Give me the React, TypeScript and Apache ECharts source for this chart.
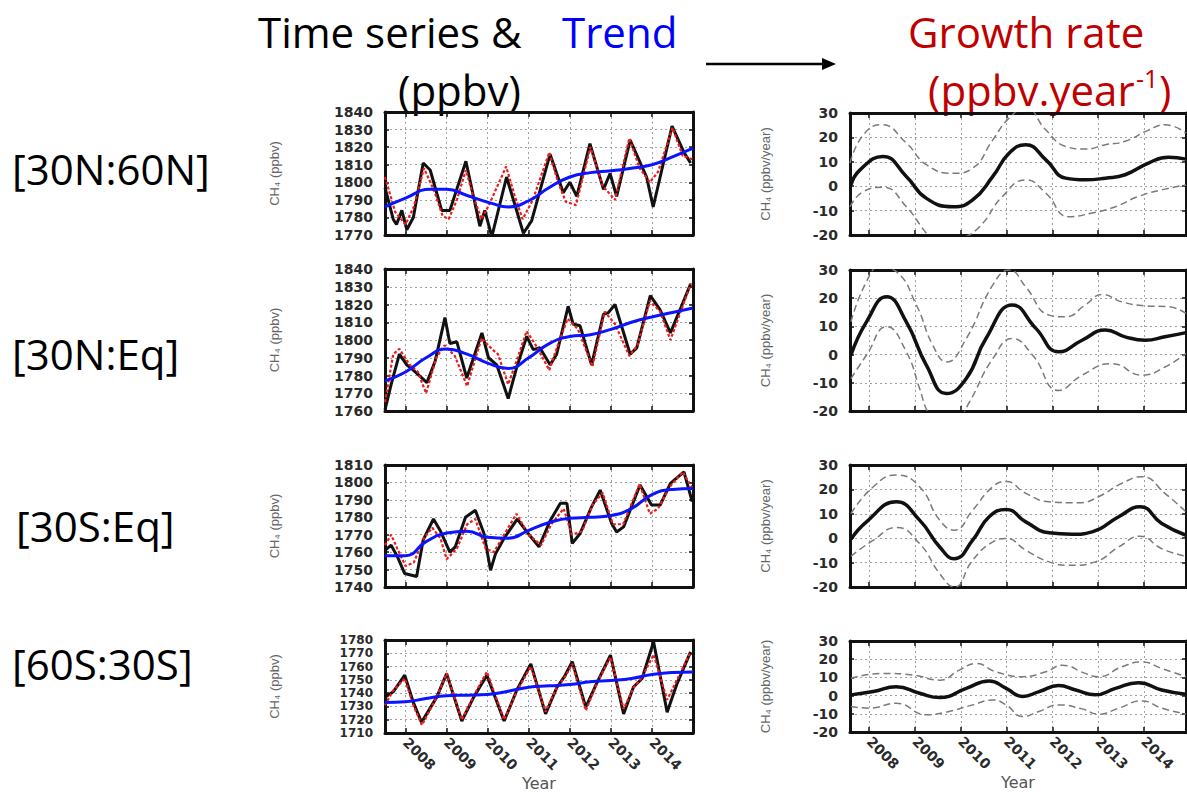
import React, { useEffect, useRef } from "react";
import * as echarts from "echarts";

// Year ticks shared by every panel
const yearTicks = [2008, 2009, 2010, 2011, 2012, 2013, 2014];

// Latitude bands, top to bottom
const bands = ["[30N:60N]", "[30N:Eq]", "[30S:Eq]", "[60S:30S]"];

// CH4 axis ranges (ppbv) for the time-series panels
const ch4Min = [1770, 1760, 1740, 1710];
const ch4Max = [1840, 1840, 1810, 1780];

// Growth-rate axis range (ppbv/year)
const rateMin = -20;
const rateMax = 30;

// ---- [30N:60N] ----
const n60Obs = [[2007.5,1797],[2007.7,1779],[2007.78,1776],[2007.91,1784],[2008.03,1773],[2008.19,1780],[2008.43,1811],[2008.6,1807],[2008.88,1784],[2009.08,1784],[2009.47,1812],[2009.81,1775],[2009.93,1784],[2010.1,1769],[2010.46,1803],[2010.87,1771],[2011.07,1778],[2011.52,1816],[2011.84,1794],[2012.0,1800],[2012.17,1792],[2012.49,1822],[2012.82,1796],[2012.98,1805],[2013.14,1792],[2013.47,1824],[2013.87,1803],[2014.03,1786],[2014.2,1803],[2014.49,1832],[2014.78,1817],[2014.94,1811]];
const n60Model = [[2007.5,1803],[2007.75,1783],[2008.0,1776],[2008.2,1786],[2008.45,1808],[2008.7,1795],[2008.9,1781],[2009.05,1779],[2009.25,1790],[2009.47,1807],[2009.65,1792],[2009.85,1779],[2010.05,1788],[2010.45,1809],[2010.65,1793],[2010.85,1779],[2011.1,1790],[2011.5,1817],[2011.7,1801],[2011.9,1789],[2012.15,1787],[2012.5,1820],[2012.8,1798],[2013.1,1790],[2013.45,1825],[2013.7,1808],[2013.95,1800],[2014.15,1806],[2014.5,1831],[2014.75,1815],[2015.0,1813]];
const n60Trend = [[2007.5,1786],[2008.0,1791],[2008.6,1796],[2009.0,1796],[2009.5,1792.5],[2010.1,1788],[2010.5,1786],[2011.0,1789.5],[2011.5,1797],[2012.0,1803],[2012.5,1805.5],[2013.0,1806.5],[2013.5,1808],[2014.0,1810],[2014.5,1814.5],[2015.0,1819.5]];
const n60Rate = [[2007.6,0.5],[2007.8,6.7],[2008.3,12.2],[2008.81,4],[2009.25,-5],[2009.83,-8.4],[2010.26,-5.6],[2010.7,4],[2011.06,13.6],[2011.42,17],[2011.86,10.8],[2012.29,3.3],[2012.72,2.6],[2013.16,3.3],[2013.59,4.7],[2014.1,9.5],[2014.54,11.9],[2014.92,11.1]];
const n60RateHi = [[2007.58,9.5],[2007.87,21],[2008.27,25.2],[2008.81,17.7],[2009.25,8.8],[2009.83,5.3],[2010.26,7.4],[2010.7,19],[2011.06,28],[2011.42,32],[2011.86,23],[2012.29,16.3],[2012.72,15.2],[2013.16,17],[2013.59,18.4],[2014.1,23],[2014.46,25.2],[2014.92,21.8]];
const n60RateLo = [[2007.58,-8.4],[2007.87,-2.2],[2008.3,-0.4],[2008.81,-8.4],[2009.25,-19.3],[2009.54,-24.8],[2009.97,-22],[2010.41,-16.6],[2010.91,-4.2],[2011.42,2.6],[2011.86,-2.9],[2012.36,-12.5],[2012.87,-11],[2013.38,-8.4],[2013.88,-4.2],[2014.46,-1.2],[2014.92,0.5]];

// ---- [30N:Eq] ----
const nEqObs = [[2007.5,1760.6],[2007.65,1775],[2007.85,1792],[2008.03,1786],[2008.19,1783],[2008.52,1776],[2008.72,1788],[2008.96,1812.6],[2009.08,1798],[2009.25,1799],[2009.49,1778.6],[2009.86,1804],[2010.02,1790],[2010.22,1786],[2010.5,1767],[2010.7,1784],[2010.95,1802],[2011.11,1794.6],[2011.27,1795.6],[2011.52,1786],[2011.68,1792],[2011.96,1819],[2012.08,1809],[2012.25,1808],[2012.53,1786],[2012.82,1814.5],[2012.94,1815.4],[2013.1,1820],[2013.47,1792],[2013.63,1795.6],[2013.96,1825],[2014.2,1817],[2014.45,1804],[2014.7,1818],[2014.94,1831.5]];
const nEqModel = [[2007.5,1765],[2007.7,1792],[2007.85,1795],[2008.1,1786],[2008.3,1782],[2008.5,1770],[2008.75,1790],[2008.95,1797],[2009.2,1791],[2009.5,1774],[2009.85,1801],[2010.1,1795],[2010.25,1792],[2010.5,1775],[2010.7,1788],[2010.95,1805],[2011.2,1796],[2011.5,1783],[2011.75,1800],[2011.95,1812],[2012.2,1806],[2012.55,1785],[2012.85,1816],[2013.1,1809],[2013.45,1791],[2013.65,1797],[2013.95,1822],[2014.2,1816],[2014.45,1800],[2014.7,1816],[2014.95,1832]];
const nEqTrend = [[2007.5,1777],[2008.0,1782],[2008.5,1790],[2009.0,1795],[2009.5,1792],[2010.0,1787],[2010.5,1784],[2011.0,1790],[2011.5,1798],[2012.0,1802],[2012.5,1803],[2013.0,1806],[2013.5,1810],[2014.0,1813],[2014.5,1815.5],[2015.0,1818]];
const nEqRate = [[2007.6,-0.2],[2007.94,11.6],[2008.38,20.5],[2008.81,11.6],[2009.25,-3.8],[2009.69,-13.8],[2010.12,-8.5],[2010.55,5.7],[2011.13,17.6],[2011.64,9.3],[2012.14,1],[2012.65,5.1],[2013.16,8.7],[2013.59,6.3],[2014.03,5.1],[2014.46,6.3],[2014.92,7.8]];
const nEqRateHi = [[2007.6,11.6],[2007.94,25.9],[2008.23,31],[2008.59,29.4],[2009.03,17.6],[2009.39,3.3],[2009.69,-2.6],[2010.12,5.7],[2010.7,24.7],[2011.06,30],[2011.42,24],[2011.93,14],[2012.29,13.4],[2012.72,17.6],[2013.09,21.3],[2013.52,18.7],[2014.03,17.3],[2014.54,17],[2014.92,14.6]];
const nEqRateLo = [[2007.6,-8.5],[2007.94,-0.2],[2008.38,9.9],[2008.81,1],[2009.1,-12],[2009.28,-20.4],[2009.54,-26],[2009.9,-24],[2010.19,-16.8],[2010.7,-1.4],[2011.13,5.7],[2011.57,-0.2],[2012.14,-12.7],[2012.65,-7.3],[2013.3,-3.2],[2013.96,-7.3],[2014.46,-4.4],[2014.92,0.4]];

// ---- [30S:Eq] ----
const sEqObs = [[2007.5,1761],[2007.65,1764],[2007.81,1757],[2007.98,1747.7],[2008.27,1746],[2008.43,1767],[2008.68,1779],[2008.84,1772.6],[2009.08,1760],[2009.21,1763],[2009.46,1780],[2009.7,1784],[2009.91,1770.7],[2010.07,1749.6],[2010.19,1759],[2010.4,1768],[2010.72,1779],[2011.05,1768.8],[2011.25,1763],[2011.52,1778],[2011.77,1788],[2011.93,1788],[2012.06,1765],[2012.25,1770.7],[2012.53,1786],[2012.74,1795.6],[2013.02,1776.4],[2013.14,1771.6],[2013.31,1774.5],[2013.71,1798.5],[2013.99,1787],[2014.2,1787],[2014.45,1799.5],[2014.78,1806],[2014.98,1789]];
const sEqModel = [[2007.5,1764],[2007.65,1770],[2007.8,1762],[2008.0,1752],[2008.2,1754],[2008.45,1768],[2008.65,1774],[2008.85,1768],[2009.0,1756],[2009.25,1762],[2009.5,1776],[2009.7,1779],[2009.95,1762],[2010.15,1760],[2010.4,1770],[2010.7,1782],[2011.0,1770],[2011.3,1764],[2011.55,1776],[2011.85,1785],[2012.05,1770],[2012.3,1772],[2012.55,1787],[2012.8,1794],[2013.05,1776],[2013.3,1776],[2013.7,1799],[2013.95,1782],[2014.15,1785],[2014.45,1798],[2014.75,1806],[2015.0,1796]];
const sEqTrend = [[2007.5,1758],[2008.0,1758],[2008.5,1766],[2009.0,1771],[2009.5,1772],[2010.0,1768.5],[2010.5,1768],[2011.0,1772.5],[2011.5,1777],[2012.0,1779.5],[2012.5,1780],[2013.0,1781],[2013.5,1785],[2014.0,1793],[2014.5,1796],[2015.0,1796.5]];
const sEqRate = [[2007.6,-0.5],[2007.94,6.7],[2008.59,14.9],[2009.1,7.4],[2009.54,-3.6],[2009.86,-8.4],[2010.26,-0.8],[2010.62,8.8],[2010.99,11.8],[2011.42,6.7],[2011.93,2.2],[2012.43,1.6],[2012.87,2.6],[2013.45,8.8],[2013.92,12.9],[2014.39,6],[2014.92,1.2]];
const sEqRateHi = [[2007.6,10.1],[2008.09,21.1],[2008.59,25.9],[2009.1,21.1],[2009.54,7.4],[2009.86,3.3],[2010.26,11.5],[2010.7,21.1],[2010.99,23.2],[2011.42,18.4],[2011.93,14.9],[2012.58,14.5],[2013.01,17],[2013.52,22.5],[2013.96,25.2],[2014.46,18.4],[2014.92,10.8]];
const sEqRateLo = [[2007.6,-7.4],[2008.09,-0.8],[2008.59,4.4],[2009.1,-2.2],[2009.54,-14.5],[2009.86,-20],[2010.26,-9],[2010.7,-1.5],[2010.99,-0.1],[2011.42,-4.9],[2011.93,-9.7],[2012.43,-11.1],[2012.94,-9.7],[2013.45,-3.6],[2013.92,0.8],[2014.39,-4.3],[2014.92,-7.4]];

// ---- [60S:30S] ----
const s60Obs = [[2007.5,1737],[2007.7,1741],[2007.98,1753.5],[2008.19,1733],[2008.39,1718],[2008.76,1737],[2009.0,1754.7],[2009.37,1719],[2009.66,1737],[2009.98,1753.5],[2010.4,1719],[2010.72,1743],[2011.05,1762],[2011.41,1724.4],[2011.69,1744.6],[2011.86,1752],[2012.06,1763.6],[2012.39,1729.5],[2012.67,1748.4],[2012.99,1768.6],[2013.31,1724.4],[2013.55,1744.6],[2013.76,1751],[2014.04,1778.7],[2014.37,1725.7],[2014.61,1747],[2014.94,1771]];
const s60Model = [[2007.5,1731],[2007.7,1742],[2007.98,1751],[2008.2,1730],[2008.4,1716],[2008.76,1737],[2009.0,1755],[2009.37,1720],[2009.66,1738],[2009.98,1756],[2010.4,1720],[2010.72,1742],[2011.05,1760],[2011.41,1726],[2011.69,1745],[2011.86,1751],[2012.06,1762],[2012.39,1727],[2012.67,1748],[2012.99,1767],[2013.31,1728],[2013.55,1744],[2013.76,1752],[2014.04,1769],[2014.37,1735],[2014.61,1750],[2014.94,1771]];
const s60Trend = [[2007.5,1733],[2008.0,1733.5],[2008.5,1736],[2009.0,1738],[2009.5,1738.5],[2010.0,1739],[2010.5,1741.5],[2011.0,1744.5],[2011.5,1745.5],[2012.0,1746.5],[2012.5,1748.5],[2013.0,1749.5],[2013.5,1751],[2014.0,1754],[2014.5,1755.5],[2015.0,1756]];
const s60Rate = [[2007.6,0.4],[2008.09,2.2],[2008.59,4.9],[2009.1,1.3],[2009.54,-1.1],[2010.12,4],[2010.62,8],[2010.99,4],[2011.35,-0.5],[2011.71,2.2],[2012.14,5.5],[2012.51,3.1],[2012.94,0.4],[2013.38,4],[2013.88,7.1],[2014.39,3.1],[2014.92,0.7]];
const s60RateHi = [[2007.6,9.5],[2008.3,12.2],[2008.96,11.3],[2009.54,8.5],[2009.97,14],[2010.33,17.6],[2010.77,13.1],[2011.35,10.4],[2011.86,13.1],[2012.22,16.7],[2012.72,12.2],[2013.01,10.4],[2013.52,15.8],[2013.96,18.5],[2014.39,14.9],[2014.92,10.4]];
const s60RateLo = [[2007.6,-6],[2008.01,-6.9],[2008.59,-4.2],[2009.25,-10.5],[2009.68,-9.1],[2010.26,-5.1],[2010.7,-2.4],[2010.99,-5.1],[2011.35,-11.5],[2011.71,-8.7],[2012.14,-5.1],[2012.65,-7.3],[2013.01,-10.2],[2013.45,-6.9],[2013.96,-2.9],[2014.39,-6.9],[2014.92,-10.2]];

const obsSets = [n60Obs, nEqObs, sEqObs, s60Obs];
const modelSets = [n60Model, nEqModel, sEqModel, s60Model];
const trendSets = [n60Trend, nEqTrend, sEqTrend, s60Trend];
const rateSets = [n60Rate, nEqRate, sEqRate, s60Rate];
const rateHiSets = [n60RateHi, nEqRateHi, sEqRateHi, s60RateHi];
const rateLoSets = [n60RateLo, nEqRateLo, sEqRateLo, s60RateLo];

// Panel boxes (px) for the left and right columns
const leftBoxes = [
  { top: 112, height: 123 },
  { top: 269, height: 142 },
  { top: 465, height: 122 },
  { top: 640, height: 93 },
];
const rightBoxes = [
  { top: 113, height: 122 },
  { top: 270, height: 141 },
  { top: 465, height: 122 },
  { top: 641, height: 91 },
];
const bandLabelPos = [
  { x: 12, y: 168 },
  { x: 12, y: 353 },
  { x: 16, y: 525 },
  { x: 12, y: 663 },
];

const HEAD_FONT = "'Open Sans', 'Noto Sans', sans-serif";
const AXIS_FONT = "'DejaVu Sans', sans-serif";

function buildOption() {
  const grid: any[] = [];
  const xAxis: any[] = [];
  const yAxis: any[] = [];
  const series: any[] = [];

  const frameLine = { show: true, onZero: false, lineStyle: { color: "#111", width: 3 } };
  const tickStyle = { color: "#111", width: 1.5 };
  const gridLine = { show: true, lineStyle: { color: "#a0a0a0", width: 1, type: [2, 3] } };
  const tickLabel = {
    fontFamily: AXIS_FONT,
    fontWeight: "bold",
    fontSize: 14,
    color: "#2a2a2a",
  };

  const addPanel = (
    box: { top: number; height: number },
    left: number,
    width: number,
    xMin: number,
    xMax: number,
    yMin: number,
    yMax: number,
    yName: string,
    yNameGap: number,
    showYears: boolean,
    yLabelSize: number
  ) => {
    const g = grid.length;
    grid.push({
      left,
      top: box.top,
      width,
      height: box.height,
      containLabel: false,
      outerBoundsMode: "none",
      show: false,
    });
    // bottom year axis
    xAxis.push({
      type: "value",
      gridIndex: g,
      position: "bottom",
      min: xMin,
      max: xMax,
      axisLine: frameLine,
      axisTick: { show: true, inside: true, length: 5, lineStyle: tickStyle, customValues: yearTicks },
      axisLabel: showYears
        ? {
            show: true,
            customValues: yearTicks,
            rotate: -45,
            margin: 7,
            ...tickLabel,
            formatter: (v: number) => (Number.isInteger(v) ? String(v) : ""),
          }
        : { show: false },
      splitLine: gridLine,
      name: showYears ? "Year" : "",
      nameLocation: "middle",
      nameGap: 40,
      nameTextStyle: { fontFamily: AXIS_FONT, fontSize: 16, color: "#555" },
    });
    // top axis: frame and ticks only
    xAxis.push({
      type: "value",
      gridIndex: g,
      position: "top",
      min: xMin,
      max: xMax,
      axisLine: frameLine,
      axisTick: { show: true, inside: true, length: 5, lineStyle: tickStyle, customValues: yearTicks },
      axisLabel: { show: false },
      splitLine: { show: false },
    });
    // left value axis
    yAxis.push({
      type: "value",
      gridIndex: g,
      position: "left",
      min: yMin,
      max: yMax,
      interval: 10,
      axisLine: frameLine,
      axisTick: { show: true, inside: true, length: 4, lineStyle: tickStyle },
      axisLabel: {
        show: true,
        margin: 12,
        ...tickLabel,
        fontSize: yLabelSize,
        lineHeight: yLabelSize,
        formatter: (v: number) => String(v),
      },
      splitLine: gridLine,
      name: yName,
      nameLocation: "middle",
      nameRotate: 90,
      nameGap: yNameGap,
      nameTextStyle: { fontFamily: "'Liberation Sans', Arial, sans-serif", fontSize: 13, color: "#666" },
    });
    // right axis: frame and ticks only
    yAxis.push({
      type: "value",
      gridIndex: g,
      position: "right",
      min: yMin,
      max: yMax,
      interval: 10,
      axisLine: frameLine,
      axisTick: { show: true, inside: true, length: 4, lineStyle: tickStyle },
      axisLabel: { show: false },
      splitLine: { show: false },
    });
    return { xi: 2 * g, yi: 2 * g };
  };

  for (let r = 0; r < 4; r++) {
    const last = r === 3;
    // Time series & trend
    const L = addPanel(
      leftBoxes[r], 385, 308, 2007.5, 2015, ch4Min[r], ch4Max[r],
      "CH\u2084 (ppbv)", 104, last, last ? 12 : 14
    );
    series.push({
      type: "line",
      name: bands[r] + " observed",
      xAxisIndex: L.xi,
      yAxisIndex: L.yi,
      data: obsSets[r],
      showSymbol: false,
      lineStyle: { color: "#111", width: 3 },
      z: 3,
    });
    series.push({
      type: "line",
      name: bands[r] + " model",
      xAxisIndex: L.xi,
      yAxisIndex: L.yi,
      data: modelSets[r],
      showSymbol: false,
      lineStyle: { color: "#ee1b1b", width: 2.2, type: [3, 2] },
      z: 4,
    });
    series.push({
      type: "line",
      name: bands[r] + " trend",
      xAxisIndex: L.xi,
      yAxisIndex: L.yi,
      data: trendSets[r],
      smooth: 0.5,
      showSymbol: false,
      lineStyle: { color: "#0a14ff", width: 3 },
      z: 5,
    });

    // Growth rate with uncertainty bounds
    const R = addPanel(
      rightBoxes[r], 850, 336, 2007.58, 2014.92, rateMin, rateMax,
      "CH\u2084 (ppbv/year)", 78, last, 14
    );
    [rateHiSets[r], rateLoSets[r]].forEach((d, k) =>
      series.push({
        type: "line",
        name: bands[r] + (k === 0 ? " rate upper" : " rate lower"),
        xAxisIndex: R.xi,
        yAxisIndex: R.yi,
        data: d,
        smooth: 0.5,
        showSymbol: false,
        lineStyle: { color: "#7a7a7a", width: 1.5, type: [7, 4] },
        z: 3,
      })
    );
    series.push({
      type: "line",
      name: bands[r] + " rate",
      xAxisIndex: R.xi,
      yAxisIndex: R.yi,
      data: rateSets[r],
      smooth: 0.5,
      showSymbol: false,
      lineStyle: { color: "#111", width: 3.5 },
      z: 4,
    });
  }

  const headText = (text: string, x: number, y: number, fill: string, fontSize = 42) => ({
    type: "text",
    x,
    y,
    style: {
      text,
      fill,
      fontFamily: HEAD_FONT,
      fontSize,
      textAlign: "left",
      textVerticalAlign: "middle",
    },
  });

  const graphic: any[] = [
    headText("Time series &", 258, 31, "#000"),
    headText("Trend", 562, 31, "#0000ff"),
    headText("(ppbv)", 398, 89, "#000"),
    headText("Growth rate", 908, 31, "#c00000"),
    headText("(ppbv.year", 928, 89, "#c00000"),
    headText("-1", 1136, 78, "#c00000", 25),
    headText(")", 1159, 89, "#c00000"),
    {
      type: "line",
      shape: { x1: 706, y1: 64, x2: 826, y2: 64 },
      style: { stroke: "#000", lineWidth: 2.5 },
    },
    {
      type: "polygon",
      shape: { points: [[822, 58], [836, 64], [822, 70]] },
      style: { fill: "#000" },
    },
    ...bands.map((b, i) => headText(b, bandLabelPos[i].x, bandLabelPos[i].y, "#000")),
  ];

  return {
    animation: false,
    backgroundColor: "#ffffff",
    grid,
    xAxis,
    yAxis,
    series,
    graphic,
  };
}

export default function App() {
  const ref = useRef<HTMLDivElement>(null);
  useEffect(() => {
    if (!ref.current) return;
    const chart = echarts.init(ref.current, undefined, { renderer: "svg" });
    chart.setOption(buildOption() as any);
    return () => chart.dispose();
  }, []);
  return (
    <div
      ref={ref}
      style={{ position: "fixed", left: 0, top: 0, width: 1187, height: 792, background: "#fff" }}
    />
  );
}
